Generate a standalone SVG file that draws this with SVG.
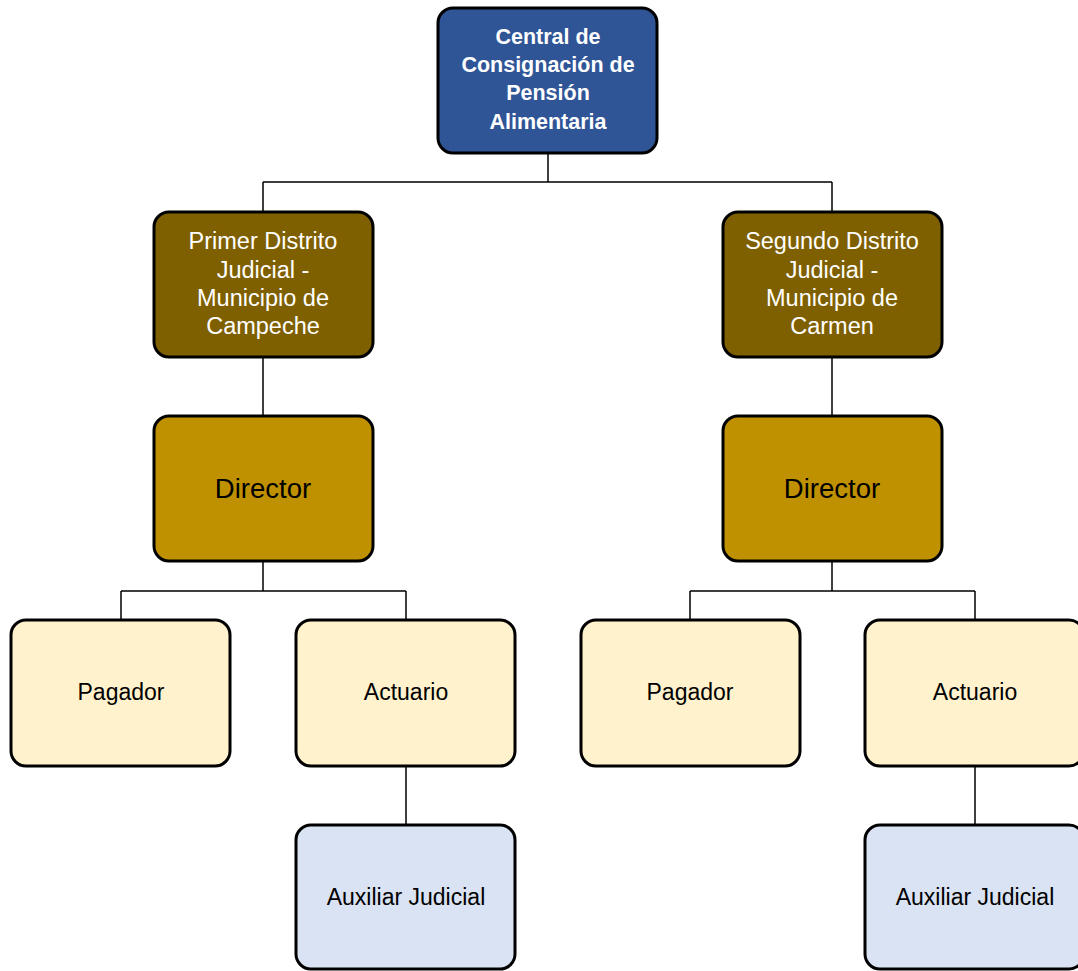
<svg xmlns="http://www.w3.org/2000/svg" width="1078" height="971" viewBox="0 0 1078 971">
<style>
.box{stroke:#000;stroke-width:3}
.t{font-family:"Liberation Sans",Arial,sans-serif;text-anchor:middle;dominant-baseline:central}
.conn{fill:none;stroke:#000;stroke-width:1.5}
</style>
<rect width="1078" height="971" fill="#fff"/>
<g id="connectors" class="conn">
<path d="M548 153V182M263 182H832M263 182V212M832 182V212"/>
<path d="M263 357V416M832 357V416"/>
<path d="M263 561V591M121 591H406M121 591V620M406 591V620"/>
<path d="M832 561V591M690 591H975M690 591V620M975 591V620"/>
<path d="M406 766V825M975 766V825"/>
</g>
<g id="central">
<rect class="box" x="438" y="8" width="219" height="145" rx="15" fill="#2F5597"/>
<text class="t" fill="#fff" font-weight="bold" font-size="21.5"><tspan x="548" y="37">Central de</tspan><tspan x="548" y="65">Consignación de</tspan><tspan x="548" y="93">Pensión</tspan><tspan x="548" y="122">Alimentaria</tspan></text>
</g>
<g id="distrito1">
<rect class="box" x="154" y="212" width="219" height="145" rx="15" fill="#7F6000"/>
<text class="t" fill="#fff" font-size="23.5"><tspan x="263" y="241">Primer Distrito</tspan><tspan x="263" y="270">Judicial -</tspan><tspan x="263" y="298">Municipio de</tspan><tspan x="263" y="326">Campeche</tspan></text>
</g>
<g id="distrito2">
<rect class="box" x="723" y="212" width="219" height="145" rx="15" fill="#7F6000"/>
<text class="t" fill="#fff" font-size="23.5"><tspan x="832" y="241">Segundo Distrito</tspan><tspan x="832" y="270">Judicial -</tspan><tspan x="832" y="298">Municipio de</tspan><tspan x="832" y="326">Carmen</tspan></text>
</g>
<g id="director1">
<rect class="box" x="154" y="416" width="219" height="145" rx="15" fill="#BF9000"/>
<text class="t" x="263" y="488" font-size="27.5" fill="#000">Director</text>
</g>
<g id="director2">
<rect class="box" x="723" y="416" width="219" height="145" rx="15" fill="#BF9000"/>
<text class="t" x="832" y="488" font-size="27.5" fill="#000">Director</text>
</g>
<g id="pagador1">
<rect class="box" x="11" y="620" width="219" height="146" rx="15" fill="#FFF2CC"/>
<text class="t" x="121" y="692" font-size="23" fill="#000">Pagador</text>
</g>
<g id="actuario1">
<rect class="box" x="296" y="620" width="219" height="146" rx="15" fill="#FFF2CC"/>
<text class="t" x="406" y="692" font-size="23" fill="#000">Actuario</text>
</g>
<g id="pagador2">
<rect class="box" x="581" y="620" width="219" height="146" rx="15" fill="#FFF2CC"/>
<text class="t" x="690" y="692" font-size="23" fill="#000">Pagador</text>
</g>
<g id="actuario2">
<rect class="box" x="865" y="620" width="219" height="146" rx="15" fill="#FFF2CC"/>
<text class="t" x="975" y="692" font-size="23" fill="#000">Actuario</text>
</g>
<g id="auxiliar1">
<rect class="box" x="296" y="825" width="219" height="144" rx="15" fill="#DAE3F3"/>
<text class="t" x="406" y="897" font-size="23" fill="#000">Auxiliar Judicial</text>
</g>
<g id="auxiliar2">
<rect class="box" x="865" y="825" width="219" height="144" rx="15" fill="#DAE3F3"/>
<text class="t" x="975" y="897" font-size="23" fill="#000">Auxiliar Judicial</text>
</g>
</svg>
